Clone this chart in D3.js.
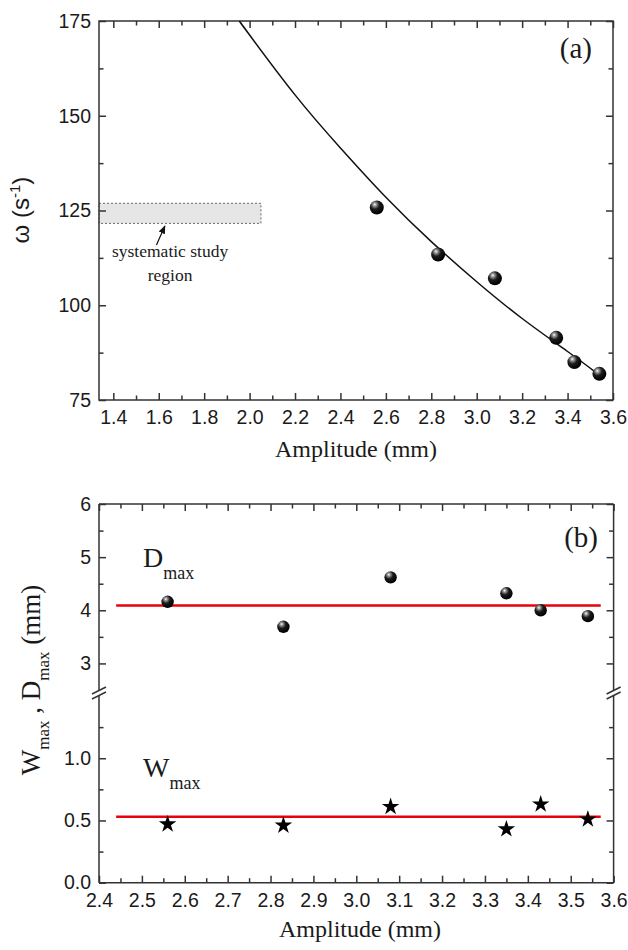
<!DOCTYPE html>
<html>
<head>
<meta charset="utf-8">
<script src="https://cdn.jsdelivr.net/npm/d3@7"></script>
<style>
  body { margin: 0; background: #fff; }
</style>
</head>
<body>
<script>
// panel (a) data
const ampA = [2.56, 2.83, 3.08, 3.35, 3.43, 3.54];
const omega = [125.8, 113.4, 107.1, 91.4, 85.0, 81.9];
// fitted curve
const curveAmp = [1.955, 2.0, 2.2, 2.4, 2.6, 2.8, 3.0, 3.2, 3.4, 3.52];
const curveOmega = [175, 171.3, 155.5, 141.5, 128.5, 116.8, 106.2, 96.5, 87.8, 82.5];
const studyAmp = [1.337, 2.05];
const studyOmega = [121.6, 126.9];

// panel (b) data
const ampB = [2.56, 2.83, 3.08, 3.35, 3.43, 3.54];
const dmax = [4.16, 3.69, 4.62, 4.32, 4.00, 3.89];
const wmax = [0.47, 0.46, 0.61, 0.43, 0.63, 0.51];
const dmaxMean = 4.09;
const wmaxMean = 0.53;
const meanRange = [2.44, 3.57];

const ticksA_x = [1.4, 1.6, 1.8, 2.0, 2.2, 2.4, 2.6, 2.8, 3.0, 3.2, 3.4, 3.6];
const ticksA_y = [75, 100, 125, 150, 175];
const ticksB_x = [2.4, 2.5, 2.6, 2.7, 2.8, 2.9, 3.0, 3.1, 3.2, 3.3, 3.4, 3.5, 3.6];
const ticksB_up = [3, 4, 5, 6];
const ticksB_low = [0.0, 0.5, 1.0];

const width = 628, height = 950;
const axisColor = "#333";
const SANS = "'Liberation Sans', Arial, sans-serif";
const SERIF = "'Liberation Serif', 'Times New Roman', serif";

const svg = d3.select("body").append("svg")
  .attr("width", width).attr("height", height);

const defs = svg.append("defs");
const grad = defs.append("radialGradient").attr("id", "ball")
  .attr("cx", "38%").attr("cy", "32%").attr("r", "65%")
  .attr("fx", "35%").attr("fy", "28%");
grad.append("stop").attr("offset", "0%").attr("stop-color", "#ffffff");
grad.append("stop").attr("offset", "18%").attr("stop-color", "#9a9a9a");
grad.append("stop").attr("offset", "50%").attr("stop-color", "#1c1c1c");
grad.append("stop").attr("offset", "100%").attr("stop-color", "#000");

function styleAxis(g) {
  g.selectAll(".domain").remove();
  g.selectAll(".tick line").attr("stroke", axisColor).attr("stroke-width", 1.5);
  g.selectAll(".tick text")
    .style("font-family", SANS).style("font-size", "19.5px").attr("fill", "#1a1a1a");
}

function minorTicks(major) {
  const out = [];
  for (let i = 0; i < major.length - 1; i++) out.push((major[i] + major[i + 1]) / 2);
  return out;
}

function serifText(sel, size) {
  return sel.append("text").style("font-family", SERIF).style("font-size", size + "px").attr("fill", "#1a1a1a");
}

// ---------------- panel (a) ----------------
const x1 = d3.scaleLinear().domain([1.337, 3.6]).range([99, 613]);
const y1 = d3.scaleLinear().domain([75, 175]).range([400, 21]);

const pA = svg.append("g");

pA.append("rect")
  .attr("x", x1(studyAmp[0])).attr("y", y1(studyOmega[1]))
  .attr("width", x1(studyAmp[1]) - x1(studyAmp[0]))
  .attr("height", y1(studyOmega[0]) - y1(studyOmega[1]))
  .attr("fill", "#e6e6e6").attr("stroke", "#666")
  .attr("stroke-width", 1).attr("stroke-dasharray", "2,2");

// axes
const minorA_x = minorTicks(ticksA_x);
const minorA_y = minorTicks(ticksA_y);

pA.append("g").attr("transform", "translate(0,400)")
  .call(d3.axisBottom(x1).tickValues(ticksA_x).tickSize(-7).tickPadding(10).tickFormat(d3.format(".1f")))
  .call(styleAxis);
pA.append("g").attr("transform", "translate(0,400)")
  .call(d3.axisBottom(x1).tickValues(minorA_x).tickSize(-4.5).tickFormat(""))
  .call(styleAxis);
pA.append("g").attr("transform", "translate(0,21)")
  .call(d3.axisTop(x1).tickValues(ticksA_x).tickSize(-7).tickFormat(""))
  .call(styleAxis);
pA.append("g").attr("transform", "translate(0,21)")
  .call(d3.axisTop(x1).tickValues(minorA_x).tickSize(-4.5).tickFormat(""))
  .call(styleAxis);
pA.append("g").attr("transform", "translate(99,0)")
  .call(d3.axisLeft(y1).tickValues(ticksA_y).tickSize(-7).tickPadding(8))
  .call(styleAxis);
pA.append("g").attr("transform", "translate(99,0)")
  .call(d3.axisLeft(y1).tickValues(minorA_y).tickSize(-4.5).tickFormat(""))
  .call(styleAxis);
pA.append("g").attr("transform", "translate(613,0)")
  .call(d3.axisRight(y1).tickValues(ticksA_y).tickSize(-7).tickFormat(""))
  .call(styleAxis);
pA.append("g").attr("transform", "translate(613,0)")
  .call(d3.axisRight(y1).tickValues(minorA_y).tickSize(-4.5).tickFormat(""))
  .call(styleAxis);

pA.append("rect").attr("x", 99).attr("y", 21).attr("width", 514).attr("height", 379)
  .attr("fill", "none").attr("stroke", axisColor).attr("stroke-width", 1.5);

// fitted curve
pA.append("path")
  .datum(curveAmp.map((d, i) => [d, curveOmega[i]]))
  .attr("d", d3.line().x(d => x1(d[0])).y(d => y1(d[1])).curve(d3.curveNatural))
  .attr("fill", "none").attr("stroke", "#111").attr("stroke-width", 1.5);

pA.selectAll("circle.pt")
  .data(ampA.map((d, i) => [d, omega[i]]))
  .enter().append("circle")
    .attr("class", "pt")
    .attr("cx", d => x1(d[0])).attr("cy", d => y1(d[1]))
    .attr("r", 7).attr("fill", "url(#ball)");

// annotation
defs.append("marker").attr("id", "arrow")
  .attr("viewBox", "0 0 10 10").attr("refX", 9).attr("refY", 5)
  .attr("markerWidth", 7).attr("markerHeight", 7).attr("orient", "auto")
  .append("path").attr("d", "M0,1 L10,5 L0,9 Z").attr("fill", "#111");
pA.append("line")
  .attr("x1", x1(1.59)).attr("y1", y1(115.9))
  .attr("x2", x1(1.627)).attr("y2", y1(120.9))
  .attr("stroke", "#111").attr("stroke-width", 1.2).attr("marker-end", "url(#arrow)");
serifText(pA, 17.5)
  .attr("x", x1(1.65)).attr("y", y1(112.6)).attr("text-anchor", "middle")
  .text("systematic study");
serifText(pA, 17.5)
  .attr("x", x1(1.65)).attr("y", y1(106.5)).attr("text-anchor", "middle")
  .text("region");

serifText(pA, 29)
  .attr("x", 592).attr("y", 58).attr("text-anchor", "end")
  .text("(a)");

serifText(pA, 24)
  .attr("x", 356).attr("y", 457).attr("text-anchor", "middle")
  .text("Amplitude (mm)");

const ylab1 = pA.append("text")
  .attr("transform", "translate(29,210) rotate(-90)")
  .attr("text-anchor", "middle").attr("fill", "#1a1a1a")
  .style("font-family", SANS).style("font-size", "24px");
ylab1.append("tspan").text("ω (s");
ylab1.append("tspan").style("font-size", "15px").attr("dy", -9).text("-1");
ylab1.append("tspan").attr("dy", 9).text(")");

// ---------------- panel (b) ----------------
const x2 = d3.scaleLinear().domain([2.4, 3.6]).range([99, 613.6]);
const yUp = d3.scaleLinear().domain([2.5, 6]).range([690, 504]);
const yLow = d3.scaleLinear().domain([0, 1.5]).range([882.7, 696]);

const pB = svg.append("g");
const minorB_x = minorTicks(ticksB_x);
const minorB_up = minorTicks(ticksB_up);
const minorB_low = minorTicks(ticksB_low).concat([1.25]);

pB.append("g").attr("transform", "translate(0,882.7)")
  .call(d3.axisBottom(x2).tickValues(ticksB_x).tickSize(-7).tickPadding(10).tickFormat(d3.format(".1f")))
  .call(styleAxis);
pB.append("g").attr("transform", "translate(0,882.7)")
  .call(d3.axisBottom(x2).tickValues(minorB_x).tickSize(-4.5).tickFormat(""))
  .call(styleAxis);
pB.append("g").attr("transform", "translate(0,504)")
  .call(d3.axisTop(x2).tickValues(ticksB_x).tickSize(-7).tickFormat(""))
  .call(styleAxis);
pB.append("g").attr("transform", "translate(0,504)")
  .call(d3.axisTop(x2).tickValues(minorB_x).tickSize(-4.5).tickFormat(""))
  .call(styleAxis);

[[yUp, ticksB_up, minorB_up, d3.format("d")], [yLow, ticksB_low, minorB_low, d3.format(".1f")]]
  .forEach(([ys, maj, mnr, fmt]) => {
    pB.append("g").attr("transform", "translate(99,0)")
      .call(d3.axisLeft(ys).tickValues(maj).tickSize(-7).tickPadding(8).tickFormat(fmt))
      .call(styleAxis);
    pB.append("g").attr("transform", "translate(99,0)")
      .call(d3.axisLeft(ys).tickValues(mnr).tickSize(-4.5).tickFormat(""))
      .call(styleAxis);
    pB.append("g").attr("transform", "translate(613.6,0)")
      .call(d3.axisRight(ys).tickValues(maj).tickSize(-7).tickFormat(""))
      .call(styleAxis);
    pB.append("g").attr("transform", "translate(613.6,0)")
      .call(d3.axisRight(ys).tickValues(mnr).tickSize(-4.5).tickFormat(""))
      .call(styleAxis);
  });

// frame with the break in both side axes
const frame = pB.append("g").attr("stroke", axisColor).attr("stroke-width", 1.5).attr("fill", "none");
frame.append("line").attr("x1", 99).attr("x2", 613.6).attr("y1", 504).attr("y2", 504);
frame.append("line").attr("x1", 99).attr("x2", 613.6).attr("y1", 882.7).attr("y2", 882.7);
[99, 613.6].forEach(xx => {
  frame.append("line").attr("x1", xx).attr("x2", xx).attr("y1", 504).attr("y2", 690);
  frame.append("line").attr("x1", xx).attr("x2", xx).attr("y1", 696).attr("y2", 882.7);
  frame.append("line").attr("x1", xx - 7).attr("x2", xx + 7).attr("y1", 694).attr("y2", 687);
  frame.append("line").attr("x1", xx - 7).attr("x2", xx + 7).attr("y1", 699).attr("y2", 692);
});

// mean lines
pB.append("line")
  .attr("x1", x2(meanRange[0])).attr("x2", x2(meanRange[1]))
  .attr("y1", yUp(dmaxMean)).attr("y2", yUp(dmaxMean))
  .attr("stroke", "#e8000b").attr("stroke-width", 2.5);
pB.append("line")
  .attr("x1", x2(meanRange[0])).attr("x2", x2(meanRange[1]))
  .attr("y1", yLow(wmaxMean)).attr("y2", yLow(wmaxMean))
  .attr("stroke", "#e8000b").attr("stroke-width", 2.5);

pB.selectAll("circle.d")
  .data(ampB.map((d, i) => [d, dmax[i]]))
  .enter().append("circle")
    .attr("class", "d")
    .attr("cx", d => x2(d[0])).attr("cy", d => yUp(d[1]))
    .attr("r", 6.2).attr("fill", "url(#ball)");

pB.selectAll("path.w")
  .data(ampB.map((d, i) => [d, wmax[i]]))
  .enter().append("path")
    .attr("class", "w")
    .attr("transform", d => `translate(${x2(d[0])},${yLow(d[1])})`)
    .attr("d", d3.symbol(d3.symbolStar, 95))
    .attr("fill", "#000");

// series labels
const dl = serifText(pB, 28).attr("x", 143).attr("y", 567);
dl.append("tspan").text("D");
dl.append("tspan").style("font-size", "18px").attr("dy", 12).text("max");
const wl = serifText(pB, 28).attr("x", 143).attr("y", 777);
wl.append("tspan").text("W");
wl.append("tspan").style("font-size", "18px").attr("dy", 12).text("max");

serifText(pB, 29)
  .attr("x", 598).attr("y", 547).attr("text-anchor", "end")
  .text("(b)");

serifText(pB, 24)
  .attr("x", 360).attr("y", 937).attr("text-anchor", "middle")
  .text("Amplitude (mm)");

const ylab2 = serifText(pB, 27)
  .attr("transform", "translate(40,680) rotate(-90)")
  .attr("text-anchor", "middle");
ylab2.append("tspan").text("W");
ylab2.append("tspan").style("font-size", "17px").attr("dy", 9).text("max");
ylab2.append("tspan").attr("dy", -9).text(" , D");
ylab2.append("tspan").style("font-size", "17px").attr("dy", 9).text("max");
ylab2.append("tspan").attr("dy", -9).text(" (mm)");
</script>
</body>
</html>
